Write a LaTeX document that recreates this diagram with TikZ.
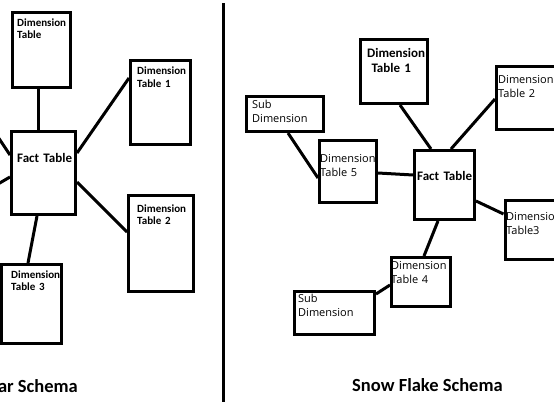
\documentclass[tikz,border=0pt]{standalone}
\usepackage{fontspec}
\newfontfamily\calibri{Carlito}
\newfontfamily\segoe{Open Sans}
\begin{document}
\begin{tikzpicture}[x=1pt,y=-1pt,
  tbl/.style={draw, line width=3pt, inner sep=0pt, rectangle},
  conn/.style={line width=3pt},
  txtb/.style={font=\calibri\bfseries\fontsize{11}{12.8}\selectfont, anchor=base west, inner sep=0pt, align=left, text width=80pt},
  txtbb/.style={font=\calibri\bfseries\fontsize{13}{15}\selectfont, anchor=base west, inner sep=0pt, align=left, text width=80pt},
  txtr/.style={font=\segoe\fontsize{11}{14}\selectfont, anchor=base west, inner sep=0pt, align=left, text width=80pt},
  ttl/.style={font=\calibri\bfseries\fontsize{18.5}{20}\selectfont, inner sep=0pt}]
\useasboundingbox (0,0) rectangle (554,415);
\clip (0,0) rectangle (554,415);
\fill[white] (0,0) rectangle (554,415);

% ---------- Star schema ----------
\node[tbl, minimum width=58pt, minimum height=75pt] (sd0) at (41.5,50) {};
\node[tbl, minimum width=60pt, minimum height=84pt] (sd1) at (160.5,102.5) {};
\node[tbl, minimum width=64pt, minimum height=83pt] (sf) at (43.5,173) {};
\node[tbl, minimum width=65pt, minimum height=96pt] (sd2) at (161,243.5) {};
\node[tbl, minimum width=60pt, minimum height=79pt] (sd3) at (31.5,304) {};
\coordinate (o1) at (-2,137);
\coordinate (o2) at (-2,184);

\draw[conn] ([xshift=-3.5pt]sd0.south) -- ([xshift=-3.5pt]sd0.south |- sf.north);
\draw[conn] ([yshift=20pt]sf.east) -- ([yshift=24.5pt]sd1.west);
\draw[conn] ([yshift=-9pt]sf.east) -- ([yshift=11.5pt]sd2.west);
\draw[conn] ([xshift=-6.5pt]sf.south) -- ([xshift=-3.5pt]sd3.north);
\draw[conn] (o1) -- ([yshift=18pt]sf.west);
\draw[conn] (o2) -- ([yshift=-4pt]sf.west);

\node[txtb] (t0) at (17,26) {Dimension\\Table};
\node[txtb] (t1) at (137,74.5) {Dimension\\Table 1};
\node[txtbb] (tf) at (17,162) {Fact Table};
\node[txtb] (t2) at (137,212) {Dimension\\Table 2};
\node[txtb] (t3) at (11,278) {Dimension\\Table 3};
\node[ttl, anchor=base east] (star) at (78,392) {Star Schema};

% ---------- divider ----------
\coordinate (dtop) at (223,3);
\coordinate (dbot) at (223,402);
\draw[line width=3pt] (dtop) -- (dbot);

% ---------- Snowflake schema ----------
\node[tbl, minimum width=67pt, minimum height=64pt] (fd1) at (394,71.5) {};
\node[tbl, minimum width=62pt, minimum height=63pt] (fd2) at (527.5,98) {};
\node[tbl, minimum width=77pt, minimum height=35pt] (sub1) at (285,114) {};
\node[tbl, minimum width=57pt, minimum height=62pt] (fd5) at (348,171.5) {};
\node[tbl, minimum width=60pt, minimum height=69pt] (ff) at (444.5,185) {};
\node[tbl, minimum width=58pt, minimum height=59pt] (fd3) at (534,230) {};
\node[tbl, minimum width=59pt, minimum height=49pt] (fd4) at (421,282) {};
\node[tbl, minimum width=80pt, minimum height=43pt] (sub2) at (334.5,313) {};

\draw[conn] ([xshift=6pt]fd1.south) -- ([xshift=-13.5pt]ff.north);
\draw[conn] ([xshift=6.5pt]ff.north) -- ([yshift=-1pt]fd2.west);
\draw[conn] ([xshift=3pt]sub1.south) -- ([yshift=-6.5pt]fd5.west);
\draw[conn] ([yshift=-1.5pt]fd5.east) -- ([yshift=10pt]ff.west);
\draw[conn] ([yshift=-16pt]ff.east) -- ([yshift=16pt]fd3.west);
\draw[conn] ([xshift=-6.5pt]ff.south) -- ([xshift=3pt]fd4.north);
\draw[conn] ([yshift=-3pt]fd4.west) -- ([yshift=19pt]sub2.east);

\node[txtbb] (u1) at (367,57) {Dimension\\\ Table 1};
\node[txtr] (u2) at (498,83) {Dimension\\Table 2};
\node[txtr] (us1) at (252,108) {Sub\\Dimension};
\node[txtr] (u5) at (320,162) {Dimension\\Table 5};
\node[txtbb] (uf) at (417,180.5) {Fact Table};
\node[txtr] (u3) at (506,220) {Dimension\\Table3};
\node[txtr] (u4) at (391,269) {Dimension\\Table 4};
\node[txtr] (us2) at (298,302) {Sub\\Dimension};
\node[ttl, anchor=base west] (snow) at (352,391) {Snow Flake Schema};
\end{tikzpicture}
\end{document}
